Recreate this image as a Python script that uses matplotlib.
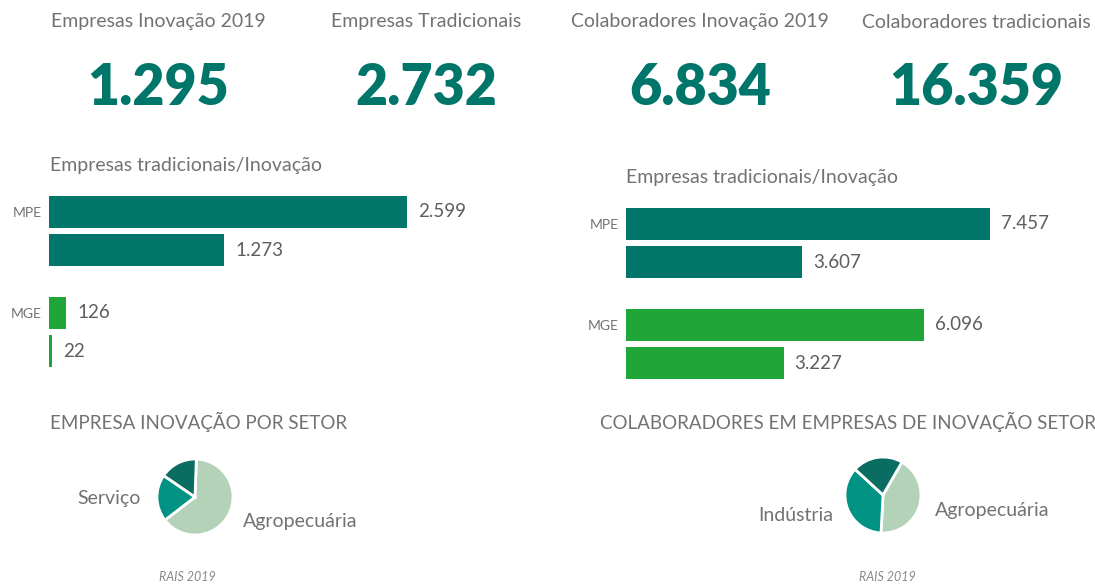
import matplotlib.pyplot as plt

# dados
kpi_titulos = ['Empresas Inovação 2019', 'Empresas Tradicionais',
               'Colaboradores Inovação 2019', 'Colaboradores tradicionais']
kpi_valores = [1295, 2732, 6834, 16359]

grupos = ['MPE', 'MPE', 'MGE', 'MGE']
empresas = [2599, 1273, 126, 22]
colaboradores = [7457, 3607, 6096, 3227]

setor_empresas = [64, 20, 16]
setor_empresas_labels = ['Agropecuária', 'Serviço', '']
setor_colab = [42.5, 36, 21.5]
setor_colab_labels = ['Agropecuária', 'Indústria', '']

W, H = 1095, 584
VERDE_ESC = '#00766b'
VERDE = '#1fa538'
PIE_CORES = ['#b4d2b7', '#009383', '#0b6c61']
CINZA = '#727272'
FONTE = ['Lato', 'DejaVu Sans']
plt.rcParams['font.family'] = FONTE


def px(x0, y0, x1, y1):
    return [x0 / W, 1 - y1 / H, (x1 - x0) / W, (y1 - y0) / H]


def fmt(v):
    return f'{v:,}'.replace(',', '.')


fig = plt.figure(figsize=(W / 100, H / 100), dpi=100)

# KPIs
centros = [158, 426, 700, 976]
for cx, t, v in zip(centros, kpi_titulos, kpi_valores):
    fig.text(cx / W, 1 - 22 / H, t, ha='center', va='center', fontsize=14, color=CINZA)
    fig.text(cx / W, 1 - 88 / H, fmt(v), ha='center', va='center', fontsize=40,
             fontweight='heavy', color=VERDE_ESC)

# barras
pos = [0, 1.2, 3.15, 4.35]
cores = [VERDE_ESC if g == 'MPE' else VERDE for g in grupos]


def barras(rect, valores, titulo_xy):
    ax = fig.add_axes(rect)
    b = ax.barh(pos, valores, height=1.0, color=cores)
    ax.bar_label(b, labels=[fmt(v) for v in valores], padding=8, fontsize=13.5, color='#5e5e5e')
    ax.set_xlim(0, max(valores))
    ax.set_ylim(pos[-1] + 0.5, -0.5)
    ax.set_yticks([pos[0], pos[2]], [grupos[0], grupos[2]])
    ax.tick_params(axis='y', length=0, pad=5, labelsize=10, labelcolor=CINZA)
    ax.set_xticks([])
    for s in ax.spines.values():
        s.set_visible(False)
    fig.text(titulo_xy[0] / W, 1 - titulo_xy[1] / H, 'Empresas tradicionais/Inovação',
             ha='left', va='center', fontsize=14, color=CINZA)


barras(px(49, 196, 407, 367), empresas, (50, 166))
barras(px(626, 208, 990, 379), colaboradores, (626, 178))

# pizzas
fig.text(50 / W, 1 - 422 / H, 'EMPRESA INOVAÇÃO POR SETOR', ha='left', va='center',
         fontsize=13.5, color=CINZA)
fig.text(600 / W, 1 - 422 / H, 'COLABORADORES EM EMPRESAS DE INOVAÇÃO SETOR', ha='left',
         va='center', fontsize=13.5, color=CINZA)


def pizza(cx, cy, valores, labels, inicio):
    ax = fig.add_axes(px(cx - 60, cy - 60, cx + 60, cy + 60))
    ax.pie(valores, labels=labels, colors=PIE_CORES, startangle=inicio, counterclock=False,
           labeldistance=1.42, wedgeprops=dict(edgecolor='white', linewidth=2),
           textprops=dict(fontsize=14, color=CINZA))
    ax.set_xlim(-60 / 38, 60 / 38)
    ax.set_ylim(-60 / 38, 60 / 38)
    ax.set_aspect('equal')


pizza(195, 497, setor_empresas, setor_empresas_labels, 88)
pizza(883, 495, setor_colab, setor_colab_labels, 60)

fig.text(187 / W, 1 - 577 / H, 'RAIS 2019', ha='center', va='center', fontsize=9,
         style='italic', color='#8a8a8a')
fig.text(887 / W, 1 - 577 / H, 'RAIS 2019', ha='center', va='center', fontsize=9,
         style='italic', color='#8a8a8a')

fig.savefig('out.png', dpi=100)
